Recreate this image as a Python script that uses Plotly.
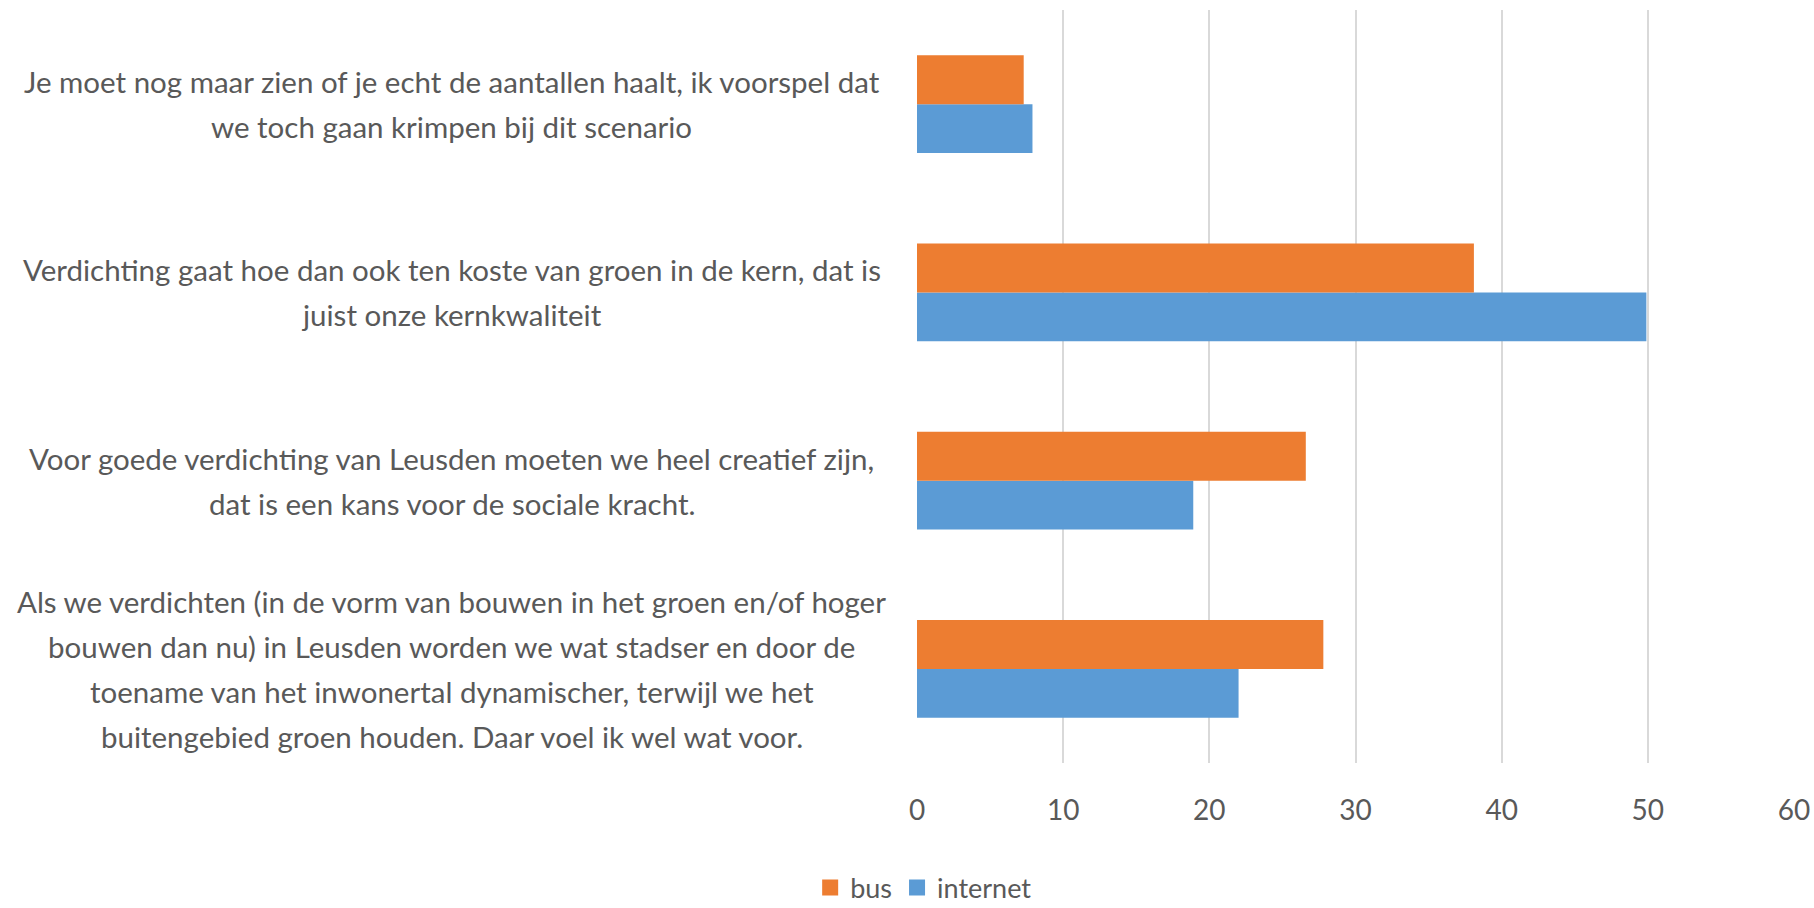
import plotly.graph_objects as go

# Categories from bottom to top (as drawn)
categories = [
    "Als we verdichten (in de vorm van bouwen in het groen en/of hoger\nbouwen dan nu) in Leusden worden we wat stadser en door de\ntoename van het inwonertal dynamischer, terwijl we het\nbuitengebied groen houden. Daar voel ik wel wat voor.",
    "Voor goede verdichting van Leusden moeten we heel creatief zijn,\ndat is een kans voor de sociale kracht.",
    "Verdichting gaat hoe dan ook ten koste van groen in de kern, dat is\njuist onze kernkwaliteit",
    "Je moet nog maar zien of je echt de aantallen haalt, ik voorspel dat\nwe toch gaan krimpen bij dit scenario",
]
bus = [27.8, 26.6, 38.1, 7.3]
internet = [22.0, 18.9, 49.9, 7.9]
x_ticks = [0, 10, 20, 30, 40, 50, 60]

TEXT = "#595959"
FONT = "Lato"
ORANGE = "#ED7D31"
BLUE = "#5B9BD5"

fig = go.Figure()
fig.add_trace(go.Bar(name="internet", y=categories, x=internet, orientation="h",
                     marker=dict(color=BLUE, line=dict(width=0)), showlegend=False))
fig.add_trace(go.Bar(name="bus", y=categories, x=bus, orientation="h",
                     marker=dict(color=ORANGE, line=dict(width=0)), showlegend=False))
# legend entries with larger square swatches
fig.add_trace(go.Scatter(name="internet", x=[None], y=[None], mode="markers",
                         marker=dict(symbol="square", size=18, color=BLUE)))
fig.add_trace(go.Scatter(name="bus", x=[None], y=[None], mode="markers",
                         marker=dict(symbol="square", size=18, color=ORANGE)))

# Centered, multi-line category labels
LINE_STEP = 45
for cat in categories:
    lines = cat.split("\n")
    n = len(lines)
    for i, ln in enumerate(lines):
        shift = ((n - 1) / 2 - i) * LINE_STEP
        fig.add_annotation(x=-0.5306, xref="paper", y=cat, yref="y",
                           text=ln, showarrow=False, xanchor="center",
                           yanchor="middle", yshift=shift,
                           font=dict(family=FONT, size=29.5, color=TEXT))

fig.update_layout(
    width=1814, height=908,
    margin=dict(l=917, r=20, t=10, b=145, autoexpand=False),
    paper_bgcolor="white", plot_bgcolor="white",
    barmode="group", bargap=0.48, bargroupgap=0,
    font=dict(family=FONT, size=28, color=TEXT),
    showlegend=True,
    legend=dict(orientation="h", traceorder="reversed", x=0.0076, xanchor="center",
                y=-0.166, yanchor="middle", font=dict(family=FONT, size=27, color=TEXT),
                itemwidth=30),
    xaxis=dict(range=[0, 60], tickvals=x_ticks, showgrid=True, gridcolor="#D9D9D9",
               gridwidth=2, zeroline=False, showline=False, ticks="", automargin=False,
               ticklabelstandoff=28, tickfont=dict(family=FONT, size=28, color=TEXT)),
    yaxis=dict(type="category", categoryorder="array", categoryarray=categories,
               showticklabels=False, showgrid=False, zeroline=False, showline=False,
               ticks="", automargin=False),
)

fig.write_html("out.html", config={"displayModeBar": False},
               post_script="document.body.style.margin='0';")
